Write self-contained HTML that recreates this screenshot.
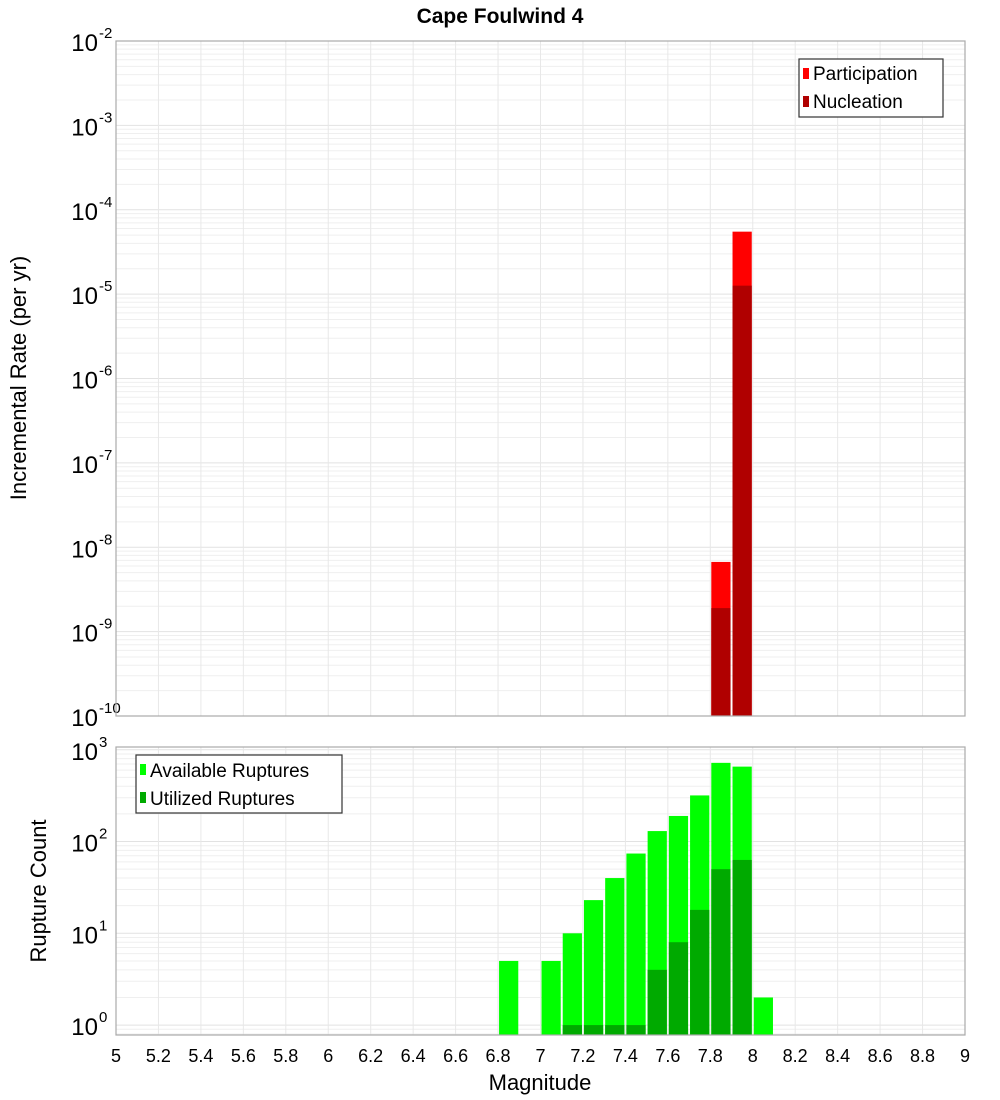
<!DOCTYPE html>
<html><head><meta charset="utf-8"><style>
body{margin:0;background:#fff;}
svg{display:block;font-family:"Liberation Sans","DejaVu Sans",sans-serif;}
</style></head><body>
<svg id="chart" width="1000" height="1100" xmlns="http://www.w3.org/2000/svg">
<text x="500" y="23" text-anchor="middle" font-size="21" font-weight="bold">Cape Foulwind 4</text>
<g id="top"></g><g id="bot"></g>
<text transform="translate(26,378) rotate(-90)" text-anchor="middle" font-size="22">Incremental Rate (per yr)</text>
<text transform="translate(46,891) rotate(-90)" text-anchor="middle" font-size="22">Rupture Count</text>
<text x="540" y="1090" text-anchor="middle" font-size="22">Magnitude</text>
<g>
<rect x="799" y="59" width="144" height="58" fill="#fff" stroke="#333" stroke-width="1.2"/>
<rect x="803" y="68" width="6" height="11" fill="#ff0000"/><text x="813" y="80" font-size="19">Participation</text>
<rect x="803" y="96" width="6" height="11" fill="#b00000"/><text x="813" y="108" font-size="19">Nucleation</text>
</g>
<g>
<rect x="136" y="755" width="206" height="58" fill="#fff" stroke="#333" stroke-width="1.2"/>
<rect x="140" y="764" width="6" height="11" fill="#00ff00"/><text x="150" y="777" font-size="19">Available Ruptures</text>
<rect x="140" y="792" width="6" height="11" fill="#00aa00"/><text x="150" y="805" font-size="19">Utilized Ruptures</text>
</g>
</svg>
<script>
const rateBins=[7.8,7.9];
const participation=[6.7e-9,5.5e-5];
const nucleation=[1.9e-9,1.26e-5];
const countBins=[6.8,7.0,7.1,7.2,7.3,7.4,7.5,7.6,7.7,7.8,7.9,8.0];
const available=[5,5,10,23,40,74,130,190,318,720,655,2];
const utilized=[0,0,1,1,1,1,4,8,18,50,63,0];
const xTicks=[5,5.2,5.4,5.6,5.8,6,6.2,6.4,6.6,6.8,7,7.2,7.4,7.6,7.8,8,8.2,8.4,8.6,8.8,9];
const topExps=[-2,-3,-4,-5,-6,-7,-8,-9,-10];
const botExps=[0,1,2,3];

const NS="http://www.w3.org/2000/svg";
const X0=116,X1=965;
const xs=m=>X0+(m-5)/4*(X1-X0);
const T={y0:41,y1:716,lo:-10,hi:-2};
const B={y0:747,y1:1035,lo:-0.108,hi:3.03};
const ys=(P,v)=>P.y1-(Math.log10(v)-P.lo)/(P.hi-P.lo)*(P.y1-P.y0);
function mk(p,tag,a){const e=document.createElementNS(NS,tag);for(const k in a)e.setAttribute(k,a[k]);p.appendChild(e);return e;}
function frame(g,P,exps,sz){
  for(let d=Math.floor(P.lo);d<=Math.ceil(P.hi);d++)for(let k=1;k<10;k++){
    const v=k*Math.pow(10,d),lv=Math.log10(v);if(lv<P.lo-1e-9||lv>P.hi+1e-9)continue;
    const y=ys(P,v);
    const l=mk(g,'line',{x1:X0,x2:X1,y1:y,y2:y,stroke:k==1?'#e2e2e2':'#efefef','stroke-width':1});
    
    
  }
  xTicks.forEach(t=>{const x=xs(t);
    const l=mk(g,'line',{x1:x,x2:x,y1:P.y0,y2:P.y1,stroke:'#e8e8e8','stroke-width':1});
    
    });
  exps.forEach(e=>{const y=ys(P,Math.pow(10,e));
    const t=mk(g,'text',{x:98,y:y+10,'text-anchor':'end','font-size':sz});
    t.textContent='10';
    
    
    const s=mk(g,'text',{x:99,y:y-3,'font-size':15});s.textContent=String(e);
    
    });
}
function border(g,P){const r=mk(g,'rect',{x:X0,y:P.y0,width:X1-X0,height:P.y1-P.y0,fill:'none',stroke:'#aaa','stroke-width':1.2});
  
  }
function bar(g,P,b,v,c,name){if(!(v>0))return;const x=xs(b)+1,w=xs(b+0.1)-xs(b)-2;const y=Math.max(P.y0,ys(P,v));
  const r=mk(g,'rect',{x:x,y:y,width:w,height:P.y1-y,fill:c});
  
  }
const gt=document.getElementById('top'),gb=document.getElementById('bot');
frame(gt,T,topExps,24);
rateBins.forEach((b,i)=>{bar(gt,T,b,participation[i],'#ff0000','participation-bar');bar(gt,T,b,nucleation[i],'#b00000','nucleation-bar');});
border(gt,T);
frame(gb,B,botExps,24);
countBins.forEach((b,i)=>{bar(gb,B,b,available[i],'#00ff00','available-bar');bar(gb,B,b,utilized[i],'#00aa00','utilized-bar');});
border(gb,B);
xTicks.forEach(t=>{const tx=mk(gb,'text',{x:xs(t),y:1062,'text-anchor':'middle','font-size':18});
  tx.textContent=String(t);
  
  });
</script>
</body></html>
